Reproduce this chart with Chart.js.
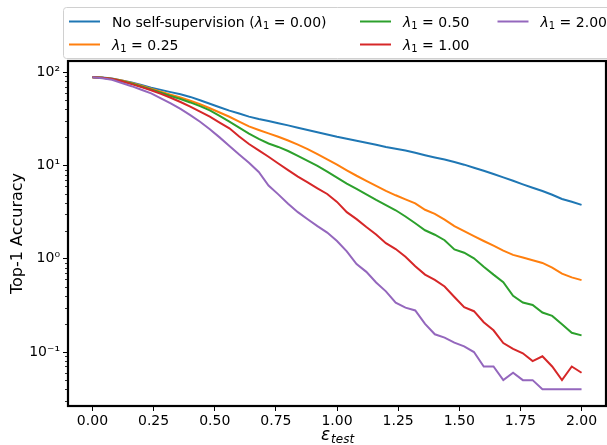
<!DOCTYPE html>
<html>
<head>
<meta charset="utf-8">
<script src="https://cdn.jsdelivr.net/npm/chart.js@4.4.1/dist/chart.umd.min.js"></script>
<style>
  html, body { margin: 0; padding: 0; background: #fff; }
</style>
</head>
<body>
<canvas id="myChart" width="607" height="445"></canvas>
<script>
// perturbation size on the x axis
const epsTest = [0.00, 0.04, 0.08, 0.12, 0.16, 0.20, 0.24, 0.28, 0.32, 0.36, 0.40, 0.44, 0.48, 0.52, 0.56, 0.60, 0.64,
  0.68, 0.72, 0.76, 0.80, 0.84, 0.88, 0.92, 0.96, 1.00, 1.04, 1.08, 1.12, 1.16, 1.20, 1.24, 1.28, 1.32, 1.36, 1.40,
  1.44, 1.48, 1.52, 1.56, 1.60, 1.64, 1.68, 1.72, 1.76, 1.80, 1.84, 1.88, 1.92, 1.96, 2.00];

// Top-1 accuracy for each setting
const accNoSelf = [88.3, 87.5, 85.5, 81.7, 77.6, 72.8, 68.2, 64.6, 61.1, 58.1, 54.3, 50.1, 45.9, 42.1, 38.7, 36.0, 33.4,
  31.5, 29.9, 28.3, 26.9, 25.4, 24.0, 22.7, 21.5, 20.3, 19.3, 18.4, 17.5, 16.7, 15.8, 15.1, 14.5, 13.7, 12.9, 12.2,
  11.6, 10.9, 10.2, 9.46, 8.79, 8.09, 7.45, 6.85, 6.28, 5.78, 5.32, 4.85, 4.37, 4.09, 3.78];
const accLam025 = [88.3, 87.3, 85.1, 81.3, 76.6, 71.6, 66.7, 61.9, 57.5, 53.5, 49.4, 45.3, 41.1, 37.0, 33.3, 29.5, 26.2,
  24.0, 22.1, 20.3, 18.5, 16.7, 15.0, 13.2, 11.6, 10.2, 8.87, 7.76, 6.85, 6.05, 5.35, 4.79, 4.33, 3.93, 3.35, 3.03,
  2.63, 2.24, 1.98, 1.75, 1.55, 1.38, 1.22, 1.10, 1.03, 0.966, 0.902, 0.804, 0.692, 0.631, 0.590];
const accLam050 = [88.3, 87.1, 84.7, 80.5, 75.5, 70.3, 65.2, 60.3, 55.6, 51.5, 47.4, 43.3, 38.9, 34.1, 29.5, 25.4, 21.9,
  19.3, 17.2, 15.8, 14.3, 12.7, 11.2, 9.91, 8.59, 7.41, 6.40, 5.60, 4.90, 4.27, 3.75, 3.31, 2.84, 2.40, 2.02, 1.81,
  1.58, 1.26, 1.16, 1.01, 0.822, 0.676, 0.562, 0.400, 0.339, 0.320, 0.265, 0.244, 0.199, 0.161, 0.151];
const accLam100 = [88.3, 87.1, 84.3, 79.8, 74.5, 69.2, 64.0, 58.6, 53.2, 47.9, 42.7, 37.8, 33.3, 28.8, 25.0, 20.4, 17.0,
  14.5, 12.4, 10.5, 8.91, 7.59, 6.58, 5.69, 4.95, 4.07, 3.16, 2.66, 2.19, 1.82, 1.47, 1.27, 1.05, 0.832, 0.676, 0.594,
  0.504, 0.389, 0.302, 0.274, 0.209, 0.171, 0.125, 0.108, 0.097, 0.08, 0.09, 0.07, 0.05, 0.07, 0.06];
const accLam200 = [88.3, 86.3, 82.8, 76.7, 70.8, 64.9, 59.2, 52.5, 46.3, 40.4, 34.7, 29.4, 24.5, 20.0, 16.2, 13.1, 10.7,
  8.51, 6.1, 4.90, 3.89, 3.16, 2.65, 2.24, 1.91, 1.55, 1.20, 0.877, 0.724, 0.556, 0.447, 0.339, 0.299, 0.279, 0.200,
  0.155, 0.143, 0.126, 0.115, 0.10, 0.07, 0.07, 0.05, 0.06, 0.05, 0.05, 0.04, 0.04, 0.04, 0.04, 0.04];

const seriesLabels = ["No self-supervision (λ₁ = 0.00)", "λ₁ = 0.25", "λ₁ = 0.50", "λ₁ = 1.00", "λ₁ = 2.00"];
const seriesColors = ["#1f77b4", "#ff7f0e", "#2ca02c", "#d62728", "#9467bd"];

// ticks
const xTickVals = [0, 0.25, 0.5, 0.75, 1.0, 1.25, 1.5, 1.75, 2.0];
const xTickLabels = ["0.00", "0.25", "0.50", "0.75", "1.00", "1.25", "1.50", "1.75", "2.00"];
const yTickVals = [0.1, 1, 10, 100];
const yTickLabels = ["10⁻¹", "10⁰", "10¹", "10²"];
const yMinorTicks = [0.03, 0.04, 0.05, 0.06, 0.07, 0.08, 0.09, 0.2, 0.3, 0.4, 0.5, 0.6, 0.7, 0.8, 0.9,
  2, 3, 4, 5, 6, 7, 8, 9, 20, 30, 40, 50, 60, 70, 80, 90];

const FONT = "'DejaVu Sans', sans-serif";

// draws text where λ is italic and ₁ is a small subscript
function drawMathText(ctx, text, x, y, size) {
  const parts = text.split(/(λ|₁)/).filter((p) => p !== "");
  let cx = x;
  ctx.textAlign = "left";
  ctx.textBaseline = "alphabetic";
  parts.forEach((p) => {
    if (p === "₁") {
      ctx.font = Math.round(size * 0.7) + "px " + FONT;
      ctx.fillText("1", cx, y + size * 0.2);
      cx += ctx.measureText("1").width;
    } else {
      ctx.font = (p === "λ" ? "italic " : "") + size + "px " + FONT;
      ctx.fillText(p, cx, y);
      cx += ctx.measureText(p).width;
    }
  });
}

const extrasPlugin = {
  id: "extras",
  afterDatasetsDraw(chart) {
    const ctx = chart.ctx;
    const area = chart.chartArea;
    const yScale = chart.scales.y;
    ctx.save();
    // minor ticks on the log axis
    ctx.strokeStyle = "#000";
    ctx.lineWidth = 0.8;
    yMinorTicks.forEach((v) => {
      const py = Math.round(yScale.getPixelForValue(v)) + 0.5;
      ctx.beginPath();
      ctx.moveTo(area.left, py);
      ctx.lineTo(area.left - 3, py);
      ctx.stroke();
    });
    // frame
    ctx.lineWidth = 2.2;
    ctx.strokeRect(area.left, area.top, area.right - area.left, area.bottom - area.top);
    ctx.restore();
  },
  afterDraw(chart) {
    const ctx = chart.ctx;
    const area = chart.chartArea;
    ctx.save();

    // legend box above the plot
    ctx.fillStyle = "rgba(255,255,255,0.8)";
    ctx.strokeStyle = "#d0d0d0";
    ctx.lineWidth = 1;
    ctx.beginPath();
    ctx.roundRect(63.5, 7.5, 560, 51, 3);
    ctx.fill();
    ctx.stroke();

    const colX = [69, 360, 497.5];
    const rowY = [21.5, 44.5];
    chart.data.datasets.forEach((ds, i) => {
      const col = Math.floor(i / 2);
      const row = i % 2;
      const x0 = colX[col];
      const yy = rowY[row];
      ctx.strokeStyle = ds.borderColor;
      ctx.lineWidth = 2;
      ctx.beginPath();
      ctx.moveTo(x0, yy);
      ctx.lineTo(x0 + 31, yy);
      ctx.stroke();
      ctx.fillStyle = "#000";
      drawMathText(ctx, ds.label, x0 + 43, yy + 5, 14);
    });

    // axis titles
    ctx.fillStyle = "#000";
    ctx.save();
    ctx.translate(18, (area.top + area.bottom) / 2);
    ctx.rotate(-Math.PI / 2);
    ctx.font = "16px " + FONT;
    ctx.textAlign = "center";
    ctx.textBaseline = "middle";
    ctx.fillText("Top-1 Accuracy", 0, 0);
    ctx.restore();

    ctx.textBaseline = "alphabetic";
    ctx.textAlign = "left";
    ctx.font = "italic 17px " + FONT;
    const epsW = ctx.measureText("ε").width;
    ctx.font = "italic 12px " + FONT;
    const subW = ctx.measureText("test").width;
    const startX = (area.left + area.right) / 2 - (epsW + subW) / 2;
    ctx.font = "italic 17px " + FONT;
    ctx.fillText("ε", startX, 440);
    ctx.font = "italic 12px " + FONT;
    ctx.fillText("test", startX + epsW + 1, 443);
    ctx.restore();
  },
};

const seriesValues = [accNoSelf, accLam025, accLam050, accLam100, accLam200];

const ctx1 = document.getElementById("myChart").getContext("2d");

new Chart(ctx1, {
  type: "line",
  data: {
    datasets: seriesValues.map((vals, i) => ({
      label: seriesLabels[i],
      data: epsTest.map((e, j) => ({ x: e, y: vals[j] })),
      borderColor: seriesColors[i],
      backgroundColor: seriesColors[i],
      borderWidth: 2,
      pointRadius: 0,
      tension: 0,
      fill: false,
      order: seriesValues.length - i,
    })),
  },
  options: {
    responsive: false,
    animation: false,
    devicePixelRatio: 1,
    layout: {
      padding: { top: 61, right: 1, left: 0, bottom: 0 },
    },
    plugins: {
      legend: { display: false },
      tooltip: { enabled: false },
    },
    scales: {
      x: {
        type: "linear",
        min: -0.1,
        max: 2.1,
        afterBuildTicks: (scale) => {
          scale.ticks = xTickVals.map((v) => ({ value: v }));
        },
        afterFit: (scale) => {
          scale.height = 39;
        },
        ticks: {
          autoSkip: false,
          maxRotation: 0,
          color: "#000",
          padding: 2,
          font: { family: FONT, size: 14 },
          callback: (value) => {
            const k = xTickVals.indexOf(value);
            return k >= 0 ? xTickLabels[k] : "";
          },
        },
        grid: {
          drawOnChartArea: false,
          drawTicks: true,
          tickLength: 5,
          tickColor: "#000",
          tickWidth: 1,
        },
        border: { display: false },
      },
      y: {
        type: "logarithmic",
        min: 0.0264,
        max: 131.8,
        afterBuildTicks: (scale) => {
          scale.ticks = yTickVals.map((v) => ({ value: v }));
        },
        afterFit: (scale) => {
          scale.width = 68;
        },
        ticks: {
          autoSkip: false,
          color: "#000",
          padding: 3,
          font: { family: FONT, size: 14 },
          callback: (value) => {
            const k = yTickVals.indexOf(value);
            return k >= 0 ? yTickLabels[k] : "";
          },
        },
        grid: {
          drawOnChartArea: false,
          drawTicks: true,
          tickLength: 5,
          tickColor: "#000",
          tickWidth: 1,
        },
        border: { display: false },
      },
    },
  },
  plugins: [extrasPlugin],
});
</script>
</body>
</html>
